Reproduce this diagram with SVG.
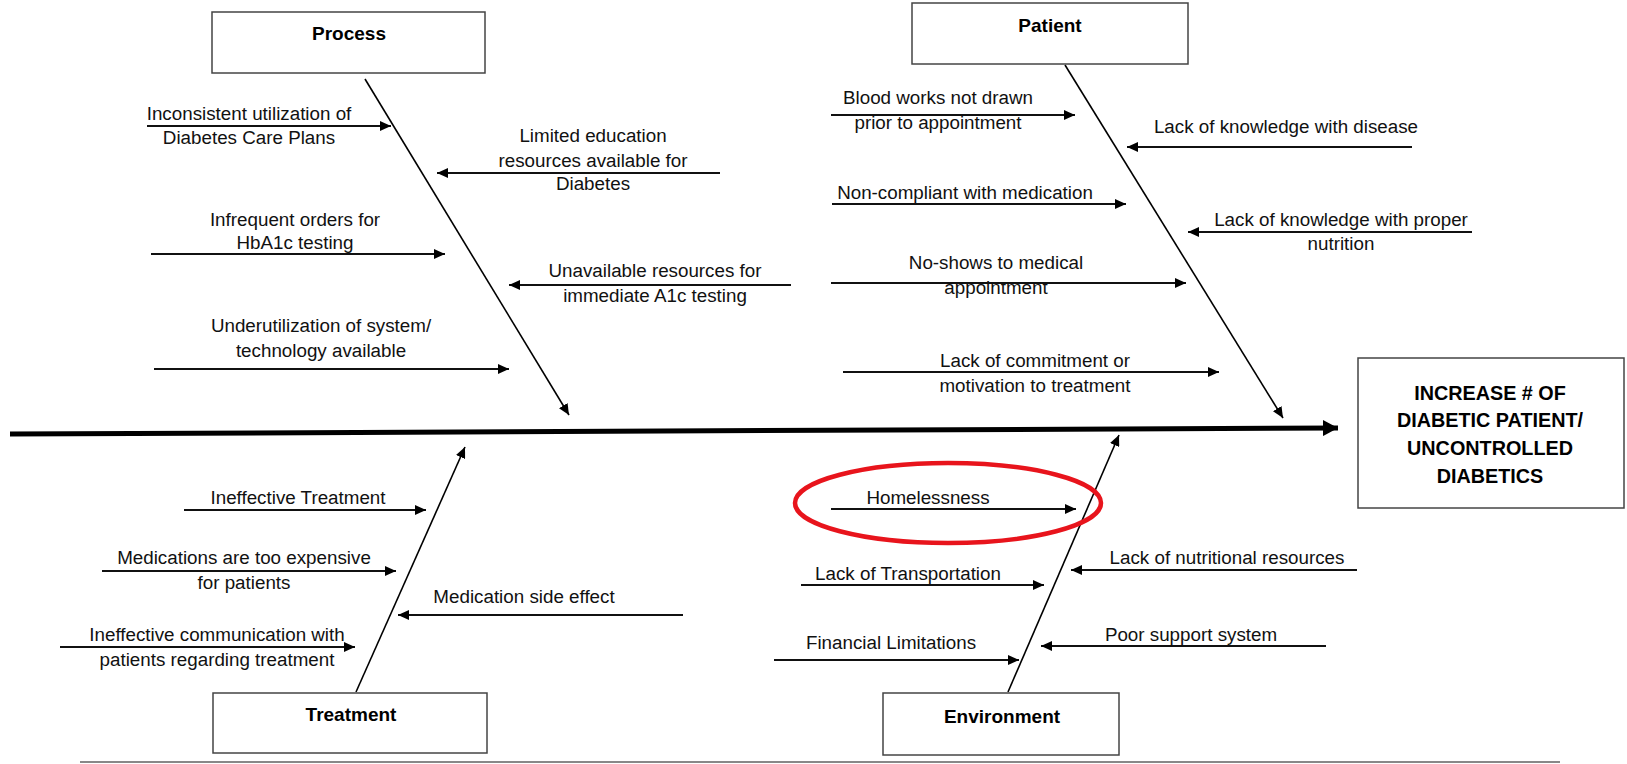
<svg xmlns="http://www.w3.org/2000/svg" width="1627" height="764" viewBox="0 0 1627 764">
<defs>
<marker id="ah" markerUnits="userSpaceOnUse" markerWidth="12" markerHeight="10" refX="11" refY="5" orient="auto">
<path d="M0,0 L11,5 L0,10 Z" fill="#000"/>
</marker>
<marker id="ahBig" markerUnits="userSpaceOnUse" markerWidth="16" markerHeight="16" refX="15" refY="8" orient="auto">
<path d="M0,0 L15,8 L0,16 Z" fill="#000"/>
</marker>
</defs>
<style>
.box{fill:#fff;stroke:#444;stroke-width:1.5}
.title{font-family:"Liberation Sans",Arial,sans-serif;font-weight:bold;font-size:19px;fill:#000;text-anchor:middle}
.eff{font-family:"Liberation Sans",Arial,sans-serif;font-weight:bold;font-size:19.8px;fill:#000;text-anchor:middle}
.lbl{font-family:"Liberation Sans",Arial,sans-serif;font-size:18.8px;fill:#111;text-anchor:middle}
.br{stroke:#111;stroke-width:2;fill:none;marker-end:url(#ah)}
.bone{stroke:#000;stroke-width:1.6;fill:none;marker-end:url(#ah)}
</style>
<rect width="1627" height="764" fill="#fff"/>

<g id="connectors">
<line x1="10" y1="434" x2="1338" y2="428" stroke="#000" stroke-width="5" marker-end="url(#ahBig)"/>
<line class="bone" x1="365" y1="79" x2="569" y2="415"/>
<line class="bone" x1="1065" y1="65" x2="1283" y2="418"/>
<line class="bone" x1="356" y1="692" x2="465" y2="447"/>
<line class="bone" x1="1008" y1="692" x2="1119" y2="435"/>
<line class="br" x1="147" y1="126" x2="391" y2="126"/>
<line class="br" x1="720" y1="173" x2="437" y2="173"/>
<line class="br" x1="151" y1="254" x2="445" y2="254"/>
<line class="br" x1="791" y1="285" x2="509" y2="285"/>
<line class="br" x1="154" y1="369" x2="509" y2="369"/>
<line class="br" x1="831" y1="115" x2="1075" y2="115"/>
<line class="br" x1="1412" y1="147" x2="1127" y2="147"/>
<line class="br" x1="832" y1="204" x2="1126" y2="204"/>
<line class="br" x1="1472" y1="232" x2="1188" y2="232"/>
<line class="br" x1="831" y1="283" x2="1186" y2="283"/>
<line class="br" x1="843" y1="372" x2="1219" y2="372"/>
<line class="br" x1="184" y1="510" x2="426" y2="510"/>
<line class="br" x1="102" y1="571" x2="396" y2="571"/>
<line class="br" x1="683" y1="615" x2="398" y2="615"/>
<line class="br" x1="60" y1="647" x2="355" y2="647"/>
<line class="br" x1="831" y1="509" x2="1076" y2="509"/>
<line class="br" x1="1357" y1="570" x2="1071" y2="570"/>
<line class="br" x1="801" y1="585" x2="1044" y2="585"/>
<line class="br" x1="1326" y1="646" x2="1041" y2="646"/>
<line class="br" x1="774" y1="660" x2="1019" y2="660"/>
<line x1="80" y1="762" x2="1560" y2="762" stroke="#888" stroke-width="2"/>
</g>

<g id="process">
<rect class="box" x="212" y="12" width="273" height="61"/>
<text class="title" x="349" y="40">Process</text>
</g>
<g id="patient">
<rect class="box" x="912" y="3" width="276" height="61"/>
<text class="title" x="1050" y="32">Patient</text>
</g>
<g id="treatment">
<rect class="box" x="213" y="693" width="274" height="60"/>
<text class="title" x="351" y="721">Treatment</text>
</g>
<g id="environment">
<rect class="box" x="883" y="693" width="236" height="62"/>
<text class="title" x="1002" y="723">Environment</text>
</g>
<g id="effect">
<rect class="box" x="1358" y="358" width="266" height="150"/>
<text class="eff" x="1490" y="400">INCREASE # OF</text>
<text class="eff" x="1490" y="427">DIABETIC PATIENT/</text>
<text class="eff" x="1490" y="455">UNCONTROLLED</text>
<text class="eff" x="1490" y="483">DIABETICS</text>
</g>

<g id="process-causes">
<text class="lbl" x="249" y="120">Inconsistent utilization of</text>
<text class="lbl" x="249" y="144">Diabetes Care Plans</text>
<text class="lbl" x="593" y="142">Limited education</text>
<text class="lbl" x="593" y="167">resources available for</text>
<text class="lbl" x="593" y="190">Diabetes</text>
<text class="lbl" x="295" y="226">Infrequent orders for</text>
<text class="lbl" x="295" y="249">HbA1c testing</text>
<text class="lbl" x="655" y="277">Unavailable resources for</text>
<text class="lbl" x="655" y="302">immediate A1c testing</text>
<text class="lbl" x="321" y="332">Underutilization of system/</text>
<text class="lbl" x="321" y="357">technology available</text>
</g>

<g id="patient-causes">
<text class="lbl" x="938" y="104">Blood works not drawn</text>
<text class="lbl" x="938" y="129">prior to appointment</text>
<text class="lbl" x="1286" y="133">Lack of knowledge with disease</text>
<text class="lbl" x="965" y="199">Non-compliant with medication</text>
<text class="lbl" x="1341" y="226">Lack of knowledge with proper</text>
<text class="lbl" x="1341" y="250">nutrition</text>
<text class="lbl" x="996" y="269">No-shows to medical</text>
<text class="lbl" x="996" y="294">appointment</text>
<text class="lbl" x="1035" y="367">Lack of commitment or</text>
<text class="lbl" x="1035" y="392">motivation to treatment</text>
</g>

<g id="treatment-causes">
<text class="lbl" x="298" y="504">Ineffective Treatment</text>
<text class="lbl" x="244" y="564">Medications are too expensive</text>
<text class="lbl" x="244" y="589">for patients</text>
<text class="lbl" x="524" y="603">Medication side effect</text>
<text class="lbl" x="217" y="641">Ineffective communication with</text>
<text class="lbl" x="217" y="666">patients regarding treatment</text>
</g>

<g id="environment-causes">
<text class="lbl" x="928" y="504">Homelessness</text>
<text class="lbl" x="1227" y="564">Lack of nutritional resources</text>
<text class="lbl" x="908" y="580">Lack of Transportation</text>
<text class="lbl" x="1191" y="641">Poor support system</text>
<text class="lbl" x="891" y="649">Financial Limitations</text>
</g>

<g id="highlight">
<ellipse cx="948" cy="503" rx="153" ry="40" fill="none" stroke="#e8141c" stroke-width="4.5"/>
</g>
</svg>
